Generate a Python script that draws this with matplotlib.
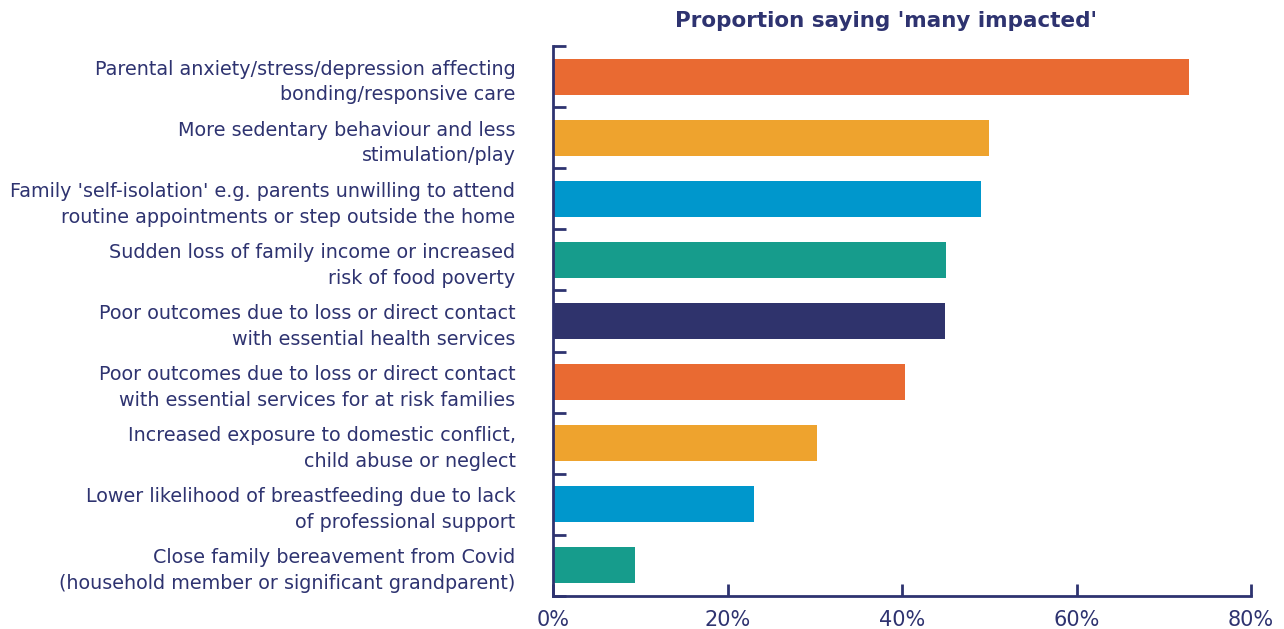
import matplotlib
matplotlib.use("Agg")
import matplotlib.pyplot as plt
import numpy as np

categories = [
    "Parental anxiety/stress/depression affecting\nbonding/responsive care",
    "More sedentary behaviour and less\nstimulation/play",
    "Family 'self-isolation' e.g. parents unwilling to attend\nroutine appointments or step outside the home",
    "Sudden loss of family income or increased\nrisk of food poverty",
    "Poor outcomes due to loss or direct contact\nwith essential health services",
    "Poor outcomes due to loss or direct contact\nwith essential services for at risk families",
    "Increased exposure to domestic conflict,\nchild abuse or neglect",
    "Lower likelihood of breastfeeding due to lack\nof professional support",
    "Close family bereavement from Covid\n(household member or significant grandparent)",
]
values = [72.9, 50.0, 49.0, 45.0, 44.9, 40.3, 30.3, 23.0, 9.4]
colors = ["#E96A32", "#EEA32E", "#0097CC", "#169C8C", "#2F336C",
          "#E96A32", "#EEA32E", "#0097CC", "#169C8C"]
xticks = [0, 20, 40, 60, 80]
xticklabels = ["0%", "20%", "40%", "60%", "80%"]
title = "Proportion saying 'many impacted'"

navy = "#2E3370"
plt.rcParams['font.family'] = ['DejaVu Sans']

fig = plt.figure(figsize=(12.84, 6.29), dpi=100)
ax = fig.add_axes([553/1284, 1-596/629, (1251-553)/1284, (596-46)/629])

y = np.arange(len(categories))
ax.barh(y, values, height=0.59, color=colors)
ax.set_ylim(len(categories)-0.5, -0.5)
ax.set_xlim(0, 80)

for s in ["top", "right"]:
    ax.spines[s].set_visible(False)
for s in ["left", "bottom"]:
    ax.spines[s].set_color(navy)
    ax.spines[s].set_linewidth(2)

ax.set_xticks(xticks)
ax.set_xticklabels(xticklabels)
ax.tick_params(axis='x', direction='in', length=9, width=2, color=navy,
               labelsize=15, labelcolor=navy, pad=10)
ax.set_yticks(y)
ax.set_yticklabels(categories)
ax.tick_params(axis='y', which='major', length=0, labelsize=13.8,
               labelcolor=navy, pad=27)
ax.set_yticks(np.arange(-0.5, len(categories)), minor=True)
ax.tick_params(axis='y', which='minor', direction='in', length=9.5, width=2,
               color=navy)
for lbl in ax.get_yticklabels():
    lbl.set_linespacing(1.45)

fig.text(886/1284, 1-21/629, title, ha='center', va='center',
         fontsize=15.5, fontweight='bold', color=navy)

fig.savefig("out.png", dpi=100)
